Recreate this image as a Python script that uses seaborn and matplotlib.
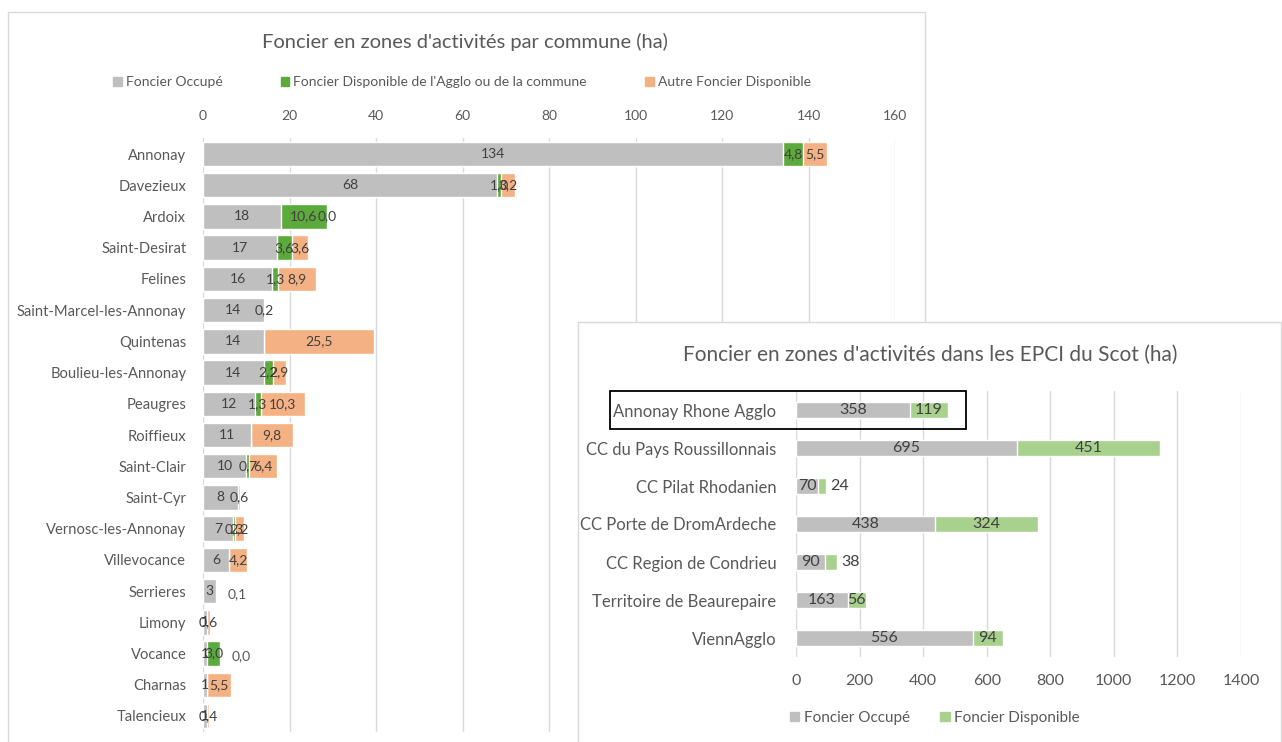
import numpy as np
import pandas as pd
import matplotlib.pyplot as plt
import seaborn as sns
from matplotlib.patches import Rectangle, Patch

# Données : foncier par commune (ha)
communes = ['Annonay', 'Davezieux', 'Ardoix', 'Saint-Desirat', 'Felines',
            'Saint-Marcel-les-Annonay', 'Quintenas', 'Boulieu-les-Annonay', 'Peaugres',
            'Roiffieux', 'Saint-Clair', 'Saint-Cyr', 'Vernosc-les-Annonay', 'Villevocance',
            'Serrieres', 'Limony', 'Vocance', 'Charnas', 'Talencieux']
occupe = [134, 68, 18, 17, 16, 14, 14, 14, 12, 11, 10, 8, 7, 6, 3, 1, 1, 1, 1]
dispo_agglo = [4.8, 1.0, 10.6, 3.6, 1.3, np.nan, np.nan, 2.2, 1.3, np.nan,
               0.7, np.nan, 0.3, np.nan, np.nan, np.nan, 3.0, np.nan, np.nan]
autre_dispo = [5.5, 3.2, 0.0, 3.6, 8.9, 0.2, 25.5, 2.9, 10.3, 9.8,
               6.4, 0.6, 2.2, 4.2, 0.1, 0.6, 0.0, 5.5, 0.4]
labels_decales = ['Serrieres', 'Vocance']
ticks_gauche = [0, 20, 40, 60, 80, 100, 120, 140, 160]

# Données : foncier par EPCI du Scot (ha)
epci = ['Annonay Rhone Agglo', 'CC du Pays Roussillonnais', 'CC Pilat Rhodanien',
        'CC Porte de DromArdeche', 'CC Region de Condrieu', 'Territoire de Beaurepaire',
        'ViennAgglo']
epci_occupe = [358, 695, 70, 438, 90, 163, 556]
epci_dispo = [119, 451, 24, 324, 38, 56, 94]
ticks_droite = [0, 200, 400, 600, 800, 1000, 1200, 1400]

gris = '#BFBFBF'
vert = '#5DAA3C'
orange = '#F4B183'
vert_clair = '#A9D18E'
texte = '#595959'
texte_val = '#404040'

sns.set_style('white')
plt.rcParams['font.family'] = ['Lato', 'DejaVu Sans']


def fr(v, dec=1):
    return f'{v:.{dec}f}'.replace('.', ',')


df = pd.DataFrame({'commune': communes, 'occupe': occupe,
                   'agglo': dispo_agglo, 'autre': autre_dispo})
df['c1'] = df['occupe']
df['c2'] = df['c1'] + df['agglo'].fillna(0)
df['c3'] = df['c2'] + df['autre'].fillna(0)

de = pd.DataFrame({'epci': epci, 'occupe': epci_occupe, 'dispo': epci_dispo})
de['total'] = de['occupe'] + de['dispo']

W, H = 1282, 742
fig = plt.figure(figsize=(W / 100, H / 100), dpi=100)

# cadre du graphique de gauche
fig.add_artist(Rectangle((8 / W, -0.02), 917 / W, 1.02 - 12 / H, transform=fig.transFigure,
                         fc='white', ec='#D9D9D9', lw=1, zorder=0))

ax1 = fig.add_axes([203 / W, 1 - 731.6 / H, 692 / W, (731.6 - 138.4) / H])
ax1.set_facecolor('none')
sns.barplot(data=df, x='c3', y='commune', orient='h', color=orange, saturation=1, width=0.78, ax=ax1)
sns.barplot(data=df, x='c2', y='commune', orient='h', color=vert, saturation=1, width=0.78, ax=ax1)
sns.barplot(data=df, x='c1', y='commune', orient='h', color=gris, saturation=1, width=0.78, ax=ax1)
ax1.set_xlim(0, 160)
ax1.set_xticks(ticks_gauche)
ax1.xaxis.tick_top()
ax1.xaxis.grid(True, color='#D9D9D9', lw=1)
ax1.set_axisbelow(True)
ax1.tick_params(axis='x', length=0, pad=12, labelsize=10, labelcolor=texte)
ax1.tick_params(axis='y', length=0, pad=12, labelsize=10.6, labelcolor=texte)
ax1.set_xlabel('')
ax1.set_ylabel('')
sns.despine(ax=ax1, left=True, bottom=True)

for i, r in df.iterrows():
    ax1.text(r['occupe'] / 2, i, f"{r['occupe']:.0f}", ha='center', va='center',
             fontsize=10, color=texte_val)
    if not np.isnan(r['agglo']):
        ax1.text(r['c1'] + r['agglo'] / 2, i, fr(r['agglo']), ha='center', va='center',
                 fontsize=10, color=texte_val)
    if not np.isnan(r['autre']):
        if r['commune'] in labels_decales:
            ax1.annotate(fr(r['autre']), (r['c3'], i), xytext=(8, -2), textcoords='offset points',
                         ha='left', va='center', fontsize=10, color=texte)
        else:
            ax1.text(r['c2'] + r['autre'] / 2, i, fr(r['autre']), ha='center', va='center',
                     fontsize=10, color=texte_val)

fig.text(465 / W, 1 - 42 / H, "Foncier en zones d'activités par commune (ha)",
         ha='center', va='center', fontsize=14.5, color=texte)
poignees = [Patch(color=gris, label='Foncier Occupé'),
            Patch(color=vert, label="Foncier Disponible de l'Agglo ou de la commune"),
            Patch(color=orange, label='Autre Foncier Disponible')]
fig.legend(handles=poignees, loc='center', bbox_to_anchor=(462 / W, 1 - 82 / H), ncol=3,
           frameon=False, fontsize=10, labelcolor=texte, handlelength=0.6, handleheight=0.6,
           handletextpad=0.3, columnspacing=4.2)

# cadre du graphique de droite (par-dessus)
fig.add_artist(Rectangle((578 / W, -0.02), 703 / W, 0.02 + (H - 322) / H, transform=fig.transFigure,
                         fc='white', ec='#D9D9D9', lw=1, zorder=1))

ax2 = fig.add_axes([796 / W, 1 - 657 / H, 445 / W, 266 / H])
ax2.set_zorder(2)
ax2.set_facecolor('none')
sns.barplot(data=de, x='total', y='epci', orient='h', color=vert_clair, saturation=1, width=0.42, ax=ax2)
sns.barplot(data=de, x='occupe', y='epci', orient='h', color=gris, saturation=1, width=0.42, ax=ax2)
ax2.set_xlim(0, 1400)
ax2.set_xticks(ticks_droite)
ax2.xaxis.grid(True, color='#D9D9D9', lw=1)
ax2.set_axisbelow(True)
ax2.tick_params(axis='x', length=0, pad=12, labelsize=11.5, labelcolor=texte)
ax2.tick_params(axis='y', length=0, pad=14, labelsize=12, labelcolor=texte)
ax2.set_xlabel('')
ax2.set_ylabel('')
sns.despine(ax=ax2, left=True, bottom=True)

for i, r in de.iterrows():
    ax2.text(r['occupe'] / 2, i, f"{r['occupe']}", ha='center', va='center',
             fontsize=11.5, color=texte_val)
    if r['dispo'] < 50:
        ax2.annotate(f"{r['dispo']}", (r['total'], i), xytext=(3, 0), textcoords='offset points',
                     ha='left', va='center', fontsize=11.5, color=texte_val)
    else:
        ax2.text(r['occupe'] + r['dispo'] / 2, i, f"{r['dispo']}", ha='center', va='center',
                 fontsize=11.5, color=texte_val)

# encadré autour d'Annonay Rhone Agglo
ax2.add_patch(Rectangle((-585, -0.5), 1120, 1.0, fill=False, ec='black', lw=1.3, clip_on=False))

fig.text(930 / W, 1 - 355 / H, "Foncier en zones d'activités dans les EPCI du Scot (ha)",
         ha='center', va='center', fontsize=15, color=texte, zorder=3)
poignees2 = [Patch(color=gris, label='Foncier Occupé'),
             Patch(color=vert_clair, label='Foncier Disponible')]
leg2 = fig.legend(handles=poignees2, loc='center', bbox_to_anchor=(935 / W, 1 - 718 / H), ncol=2,
                  frameon=False, fontsize=11, labelcolor=texte, handlelength=0.6, handleheight=0.6,
                  handletextpad=0.3, columnspacing=2.0)
leg2.set_zorder(3)

fig.savefig('out.png', dpi=100)
